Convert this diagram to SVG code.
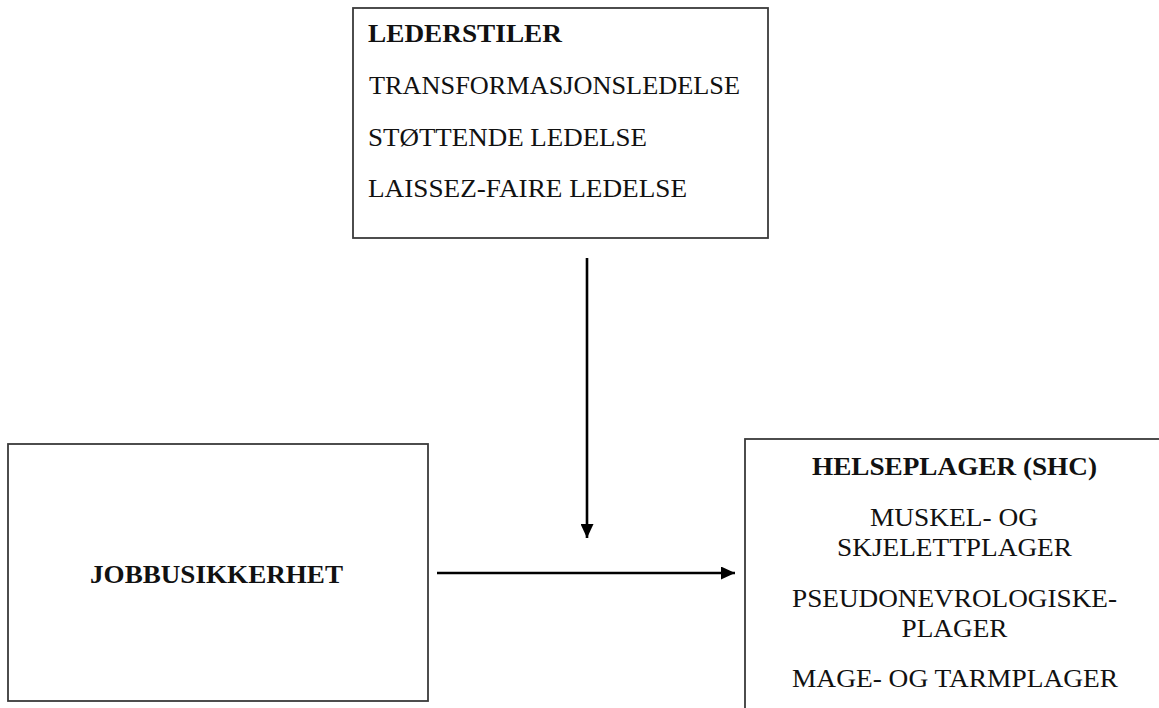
<svg xmlns="http://www.w3.org/2000/svg" width="1159" height="708" viewBox="0 0 1159 708">
<style>
.box{fill:#fff;stroke:#3a3a3a;stroke-width:1.8}
.t{font-family:"Liberation Serif","Times New Roman",serif;font-size:26px;fill:#111}
.b{font-weight:bold}
.c{text-anchor:middle}
.edge{stroke:#000;stroke-width:2.6;fill:none}
</style>
<defs>
<marker id="ah" markerUnits="userSpaceOnUse" markerWidth="15" markerHeight="13" refX="14" refY="6.5" orient="auto">
<path d="M0,0 L14,6.5 L0,13 Z" fill="#000"/>
</marker>
</defs>
<rect width="1159" height="708" fill="#fff"/>
<g id="lederstiler">
<rect class="box" x="353" y="8" width="415" height="230"/>
<text class="t b" x="368" y="42" textLength="194" lengthAdjust="spacingAndGlyphs">LEDERSTILER</text>
<text class="t" x="369" y="94" textLength="371" lengthAdjust="spacingAndGlyphs">TRANSFORMASJONSLEDELSE</text>
<text class="t" x="368" y="146" textLength="279" lengthAdjust="spacingAndGlyphs">STØTTENDE LEDELSE</text>
<text class="t" x="368" y="197" textLength="319" lengthAdjust="spacingAndGlyphs">LAISSEZ-FAIRE LEDELSE</text>
</g>
<g id="jobbusikkerhet">
<rect class="box" x="8" y="444" width="420" height="257"/>
<text class="t b" x="90" y="583" textLength="253" lengthAdjust="spacingAndGlyphs">JOBBUSIKKERHET</text>
</g>
<g id="helseplager">
<rect class="box" x="745" y="439" width="430" height="290"/>
<text class="t b c" x="954.5" y="475" textLength="285" lengthAdjust="spacingAndGlyphs">HELSEPLAGER (SHC)</text>
<text class="t c" x="954" y="526" textLength="168" lengthAdjust="spacingAndGlyphs">MUSKEL- OG</text>
<text class="t c" x="954.5" y="556" textLength="235" lengthAdjust="spacingAndGlyphs">SKJELETTPLAGER</text>
<text class="t c" x="954.5" y="607" textLength="325" lengthAdjust="spacingAndGlyphs">PSEUDONEVROLOGISKE-</text>
<text class="t c" x="954.5" y="637" textLength="106" lengthAdjust="spacingAndGlyphs">PLAGER</text>
<text class="t c" x="955" y="687" textLength="326" lengthAdjust="spacingAndGlyphs">MAGE- OG TARMPLAGER</text>
</g>
<g id="connectors">
<line class="edge" x1="587" y1="258" x2="587" y2="538" marker-end="url(#ah)"/>
<line class="edge" x1="437" y1="573" x2="735" y2="573" marker-end="url(#ah)"/>
</g>
</svg>
